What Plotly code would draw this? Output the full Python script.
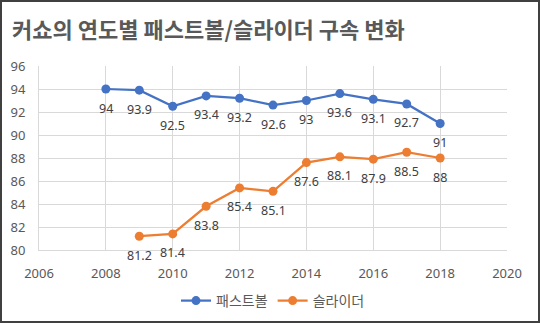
import plotly.graph_objects as go

fb_years = [2008, 2009, 2010, 2011, 2012, 2013, 2014, 2015, 2016, 2017, 2018]
fastball = [94, 93.9, 92.5, 93.4, 93.2, 92.6, 93, 93.6, 93.1, 92.7, 91]
sl_years = [2009, 2010, 2011, 2012, 2013, 2014, 2015, 2016, 2017, 2018]
slider = [81.2, 81.4, 83.8, 85.4, 85.1, 87.6, 88.1, 87.9, 88.5, 88]

FONT = "Noto Sans CJK KR"
NUMFONT = "Noto Sans"
W, H = 540, 323
L, R, T, B = 39, 33, 66, 73
pw, ph = W - L - R, H - T - B

fig = go.Figure()
fig.add_trace(go.Scatter(
    x=fb_years, y=fastball, name="패스트볼", mode="lines+markers",
    line=dict(color="#4472C4", width=2.25), marker=dict(size=9, color="#4472C4"),
    cliponaxis=False))
fig.add_trace(go.Scatter(
    x=sl_years, y=slider, name="슬라이더", mode="lines+markers",
    line=dict(color="#ED7D31", width=2.25), marker=dict(size=9, color="#ED7D31"),
    cliponaxis=False))

annotations = []
for xs, ys in ((fb_years, fastball), (sl_years, slider)):
    for xv, yv in zip(xs, ys):
        annotations.append(dict(x=xv, y=yv, xref="x", yref="y", text=f"{yv:g}",
                                showarrow=False, yshift=-19, xanchor="center", yanchor="middle",
                                borderpad=0,
                                font=dict(size=12.5, color="#404040", family=NUMFONT)))

fig.update_layout(
    width=W, height=H, margin=dict(l=L, r=R, t=T, b=B, autoexpand=False),
    paper_bgcolor="white", plot_bgcolor="white",
    font=dict(family=FONT, color="#595959", size=13),
    title=dict(text="<b>커쇼의 연도별 패스트볼/슬라이더 구속 변화</b>", x=12 / W, xanchor="left",
               y=1 - 30 / H, yanchor="middle", font=dict(size=22, color="#595959", family=FONT)),
    showlegend=True,
    legend=dict(orientation="h", x=0.5, xanchor="center", y=-51 / ph, yanchor="middle",
                font=dict(size=14, color="#595959", family=FONT), itemwidth=30),
    xaxis=dict(range=[2006, 2020], tick0=2006, dtick=2, showgrid=True, gridcolor="#D9D9D9",
               showline=True, linecolor="#D9D9D9", zeroline=False, ticks="", automargin=False,
               tickfont=dict(size=13, color="#595959", family=NUMFONT), ticklabelstandoff=11,
               fixedrange=True),
    yaxis=dict(range=[80, 96], tick0=80, dtick=2, showgrid=True, gridcolor="#D9D9D9",
               showline=True, linecolor="#D9D9D9", zeroline=False, ticks="", automargin=False,
               tickfont=dict(size=13, color="#595959", family=NUMFONT), ticklabelstandoff=10,
               fixedrange=True),
    annotations=annotations,
    shapes=[dict(type="rect", xref="paper", yref="paper",
                 x0=(-L + 1) / pw, x1=1 + (R - 1) / pw, y0=(-B + 1) / ph, y1=1 + (T - 1) / ph,
                 line=dict(color="#404040", width=2), fillcolor="rgba(0,0,0,0)", layer="above")],
)

fig.write_html("out.html")
